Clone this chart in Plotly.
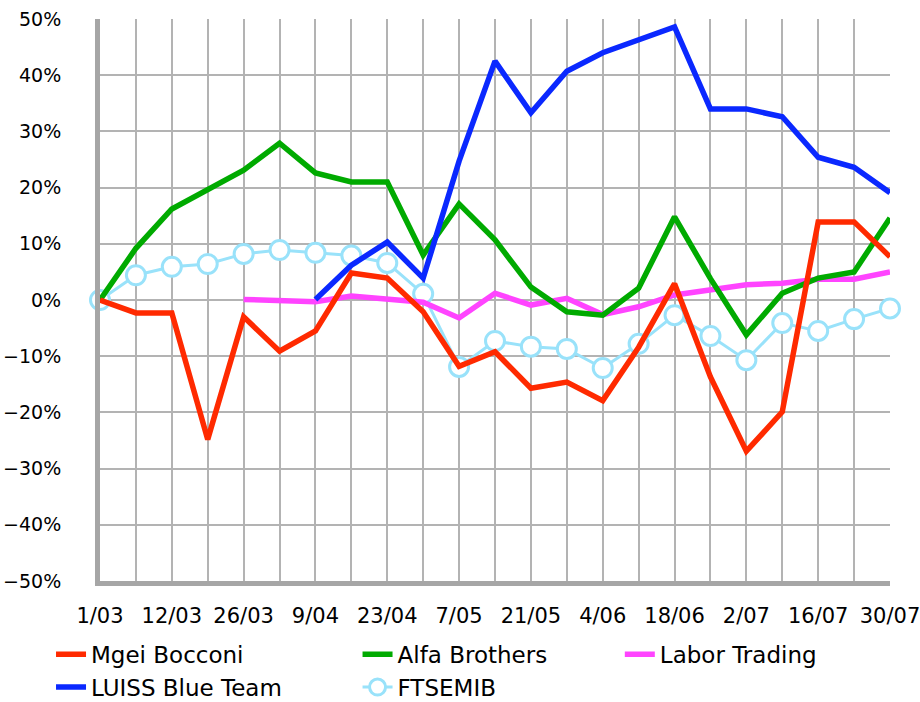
import plotly.graph_objects as go

dates = ["1/03", "5/03", "12/03", "19/03", "26/03", "2/04", "9/04", "16/04", "23/04",
         "30/04", "7/05", "14/05", "21/05", "28/05", "4/06", "11/06", "18/06", "25/06",
         "2/07", "9/07", "16/07", "23/07", "30/07"]

mgei_bocconi = [0, -2.3, -2.3, -24.8, -3.0, -9.1, -5.5, 4.8, 3.9, -2.1, -11.8, -9.2,
                -15.7, -14.6, -17.9, -8.4, 2.9, -13.7, -26.9, -19.9, 13.9, 13.9, 7.7]
alfa_brothers = [0, 9.2, 16.2, 19.6, 23.1, 27.9, 22.6, 21.0, 21.0, 8.0, 17.1, 10.7,
                 2.3, -2.1, -2.7, 2.1, 14.8, 3.8, -6.2, 1.2, 3.9, 5.0, 14.6]
labor_trading = [None, None, None, None, 0.1, -0.2, -0.3, 0.7, 0.2, -0.4, -3.2, 1.2,
                 -0.9, 0.3, -2.6, -1.2, 0.9, 1.8, 2.7, 3.0, 3.7, 3.7, 5.0]
luiss_blue = [None, None, None, None, None, None, 0.1, 6.2, 10.3, 3.9, 24.7, 42.5,
              33.3, 40.7, 44.0, 46.4, 48.6, 34.0, 34.0, 32.6, 25.4, 23.6, 19.1]
ftsemib = [0, 4.4, 5.9, 6.4, 8.2, 8.9, 8.4, 7.9, 6.6, 1.1, -11.9, -7.3, -8.3, -8.7,
           -12.1, -7.8, -2.7, -6.4, -10.7, -4.1, -5.5, -3.4, -1.5]

y_ticks = [-50, -40, -30, -20, -10, 0, 10, 20, 30, 40, 50]
y_ticktext = [("\u2212" if v < 0 else "") + f"{abs(v)}%" for v in y_ticks]
x_ticktext = [d if i % 2 == 0 else "" for i, d in enumerate(dates)]

FONT = "DejaVu Sans"

fig = go.Figure()

fig.add_trace(go.Scatter(
    x=dates, y=ftsemib, name="FTSEMIB", mode="lines+markers",
    line=dict(color="#99e2fa", width=3),
    marker=dict(symbol="circle", size=19, color="white",
                line=dict(color="#99e2fa", width=3)),
    cliponaxis=False, legend="legend2", legendrank=2))
fig.add_trace(go.Scatter(
    x=dates, y=labor_trading, name="Labor Trading", mode="lines",
    line=dict(color="#ff44ff", width=5.5), legend="legend3", legendrank=1))
fig.add_trace(go.Scatter(
    x=dates, y=alfa_brothers, name="Alfa Brothers", mode="lines",
    line=dict(color="#00aa00", width=5.5), legend="legend2", legendrank=1))
fig.add_trace(go.Scatter(
    x=dates, y=luiss_blue, name="LUISS Blue Team", mode="lines",
    line=dict(color="#0a28ff", width=5.5), legend="legend", legendrank=2))
fig.add_trace(go.Scatter(
    x=dates, y=mgei_bocconi, name="Mgei Bocconi", mode="lines",
    line=dict(color="#ff2a00", width=5.5), legend="legend", legendrank=1))

leg_common = dict(orientation="v", yanchor="top", xanchor="left",
                  font=dict(family=FONT, size=23, color="black"),
                  bgcolor="rgba(0,0,0,0)", tracegroupgap=0, itemwidth=30,
                  maxheight=200)

LEG_Y = -0.092

fig.update_layout(
    width=920, height=702,
    margin=dict(l=100, r=30, t=19, b=121, autoexpand=False),
    plot_bgcolor="white", paper_bgcolor="white",
    font=dict(family=FONT, color="black"),
    showlegend=True,
    legend=dict(x=-0.062, y=LEG_Y, **leg_common),
    legend2=dict(x=0.326, y=LEG_Y, **leg_common),
    legend3=dict(x=0.658, y=LEG_Y, **leg_common),
    xaxis=dict(
        type="category", range=[0, len(dates) - 1],
        tickmode="array", tickvals=dates, ticktext=x_ticktext,
        showgrid=True, gridcolor="#b3b3b3", gridwidth=1.5,
        showline=True, linecolor="#a6a6a6", linewidth=5,
        ticks="", tickfont=dict(family=FONT, size=21, color="black"),
        ticklabelstandoff=12, zeroline=False, automargin=False),
    yaxis=dict(
        range=[-50, 50], tickmode="array", tickvals=y_ticks, ticktext=y_ticktext,
        showgrid=True, gridcolor="#b3b3b3", gridwidth=1.5,
        showline=True, linecolor="#a6a6a6", linewidth=5,
        ticks="", tickfont=dict(family=FONT, size=19, color="black"),
        ticklabelstandoff=30, zeroline=False, automargin=False),
)

fig.write_html("out.html", config={"displayModeBar": False},
               post_script="document.body.style.margin='0';document.body.style.overflow='hidden';")
